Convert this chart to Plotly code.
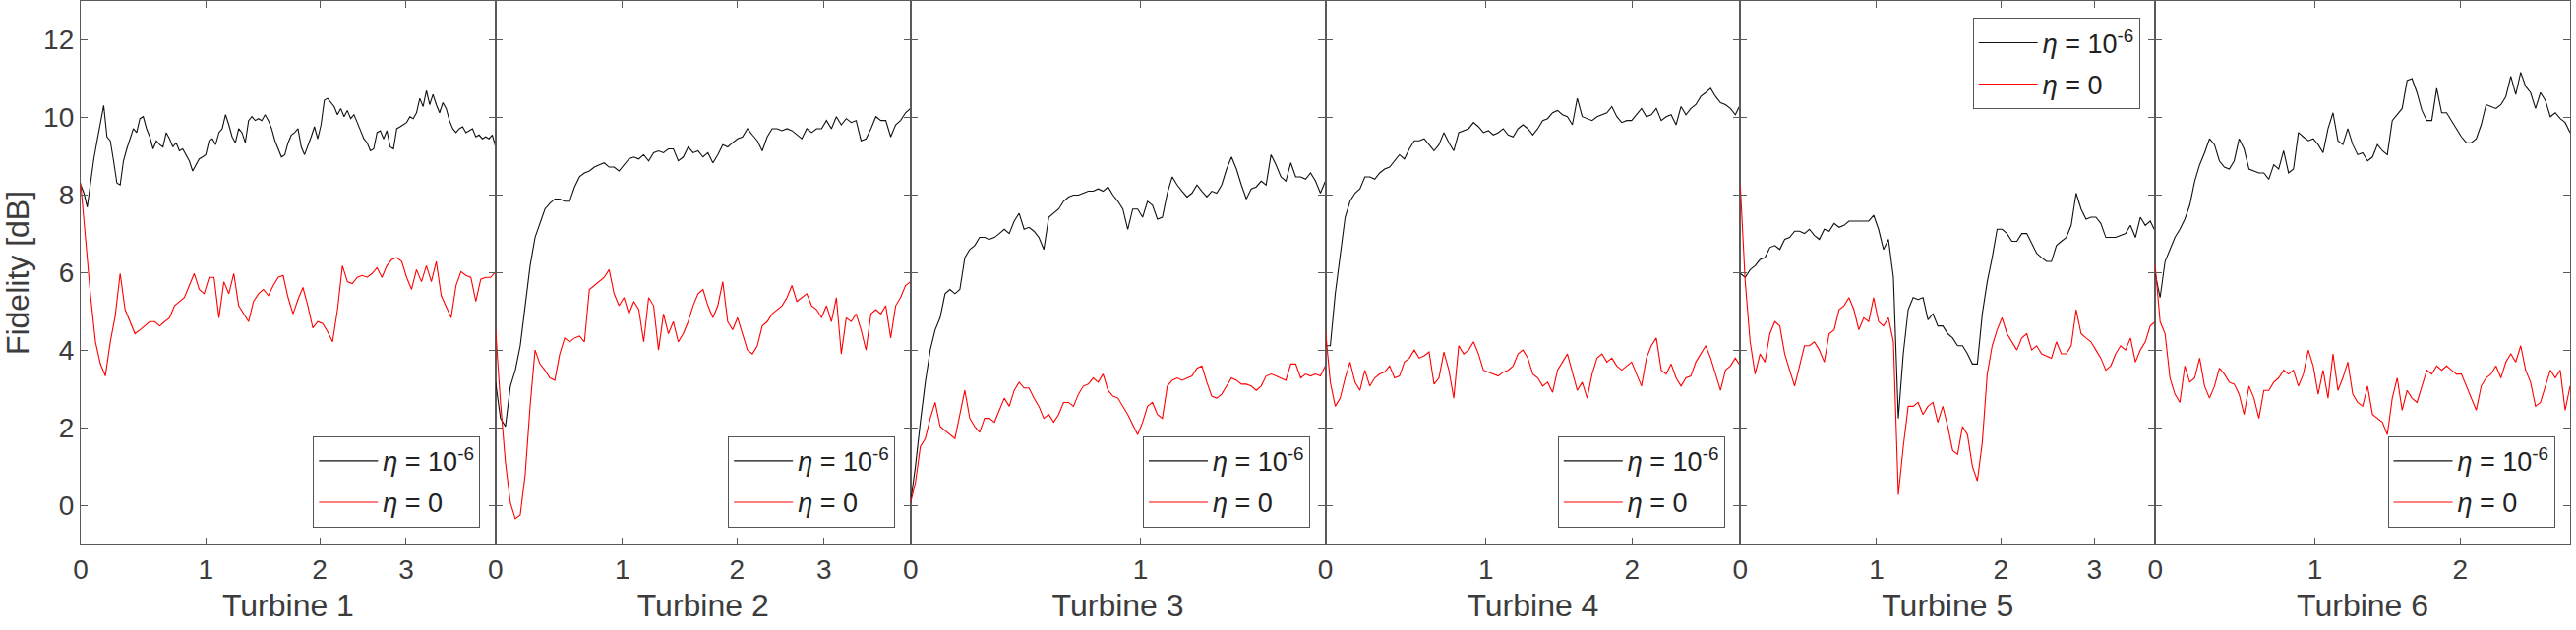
import numpy as np
import plotly.graph_objects as go
from plotly.subplots import make_subplots

turbines = ["Turbine 1", "Turbine 2", "Turbine 3", "Turbine 4", "Turbine 5", "Turbine 6"]
series_names = ["<i>η</i> = 10<sup>-6</sup>", "<i>η</i> = 0"]

# x tick positions (fraction of each turbine's record) and labels
tick_pos = [
    [0, 0.3017, 0.5764, 0.7846],
    [0, 0.3057, 0.5821, 0.7915],
    [0, 0.5546],
    [0, 0.3873, 0.7391],
    [0, 0.3286, 0.6279, 0.8535],
    [0, 0.385, 0.7352],
]
tick_txt = [
    ["0", "1", "2", "3"],
    ["0", "1", "2", "3"],
    ["0", "1"],
    ["0", "1", "2"],
    ["0", "1", "2", "3"],
    ["0", "1", "2"],
]
y_ticks = [0, 2, 4, 6, 8, 10, 12]

t1_eta6 = [8.26, 8.05, 7.69, 8.36, 8.93, 9.40, 9.81, 10.31, 9.50, 9.40,
           8.88, 8.31, 8.26, 8.88, 9.19, 9.45, 9.71, 9.61, 9.97, 10.02,
           9.71, 9.50, 9.19, 9.40, 9.30, 9.24, 9.61, 9.45, 9.24, 9.35,
           9.14, 9.19, 9.04, 8.88, 8.62, 8.78, 8.93, 8.98, 9.04, 9.40,
           9.45, 9.30, 9.61, 9.71, 10.07, 9.81, 9.50, 9.35, 9.71, 9.61,
           9.35, 9.92, 10.02, 9.92, 9.97, 9.92, 10.07, 9.92, 9.71, 9.40,
           9.19, 8.98, 9.04, 9.35, 9.55, 9.61, 9.71, 9.24, 9.04, 9.30,
           9.50, 9.76, 9.45, 9.81, 10.44, 10.49, 10.38, 10.28, 10.07, 10.23,
           10.02, 10.18, 9.97, 10.07, 9.87, 9.66, 9.45, 9.35, 9.14, 9.19,
           9.61, 9.66, 9.45, 9.66, 9.24, 9.19, 9.71, 9.76, 9.81, 9.87,
           10.02, 9.97, 10.12, 10.49, 10.28, 10.69, 10.33, 10.59, 10.33, 10.12,
           10.38, 10.23, 9.92, 9.71, 9.61, 9.71, 9.76, 9.61, 9.66, 9.71,
           9.50, 9.55, 9.45, 9.50, 9.45, 9.55, 9.24]
t1_eta0 = [8.31, 6.91, 5.41, 4.22, 3.65, 3.34, 4.22, 4.89, 5.98, 5.05,
           4.74, 4.43, 4.53, 4.63, 4.74, 4.74, 4.63, 4.74, 4.84, 5.15,
           5.26, 5.36, 5.67, 5.98, 5.57, 5.46, 5.88, 5.88, 4.84, 5.77,
           5.46, 5.98, 5.15, 4.94, 4.74, 5.26, 5.46, 5.57, 5.41, 5.67,
           5.88, 5.93, 5.36, 4.94, 5.31, 5.62, 5.15, 4.58, 4.74, 4.69,
           4.48, 4.22, 5.05, 6.18, 5.77, 5.72, 5.88, 5.93, 5.88, 5.98,
           6.13, 5.88, 6.18, 6.34, 6.39, 6.29, 5.88, 5.57, 6.08, 5.77,
           6.18, 5.77, 6.29, 5.41, 5.10, 4.84, 5.67, 6.03, 5.93, 5.88,
           5.26, 5.83, 5.88, 5.88, 6.03]

t2_eta6 = [3.18, 2.25, 2.04, 3.08, 3.49, 4.12, 5.15, 6.18, 6.91, 7.27,
           7.64, 7.79, 7.90, 7.90, 7.84, 7.84, 8.21, 8.47, 8.57, 8.62,
           8.72, 8.78, 8.83, 8.72, 8.72, 8.62, 8.78, 8.93, 8.98, 8.93,
           9.04, 8.88, 9.09, 9.14, 9.09, 9.19, 9.19, 8.88, 8.98, 9.24,
           9.09, 9.14, 8.98, 9.09, 8.83, 9.04, 9.30, 9.24, 9.35, 9.45,
           9.50, 9.71, 9.55, 9.40, 9.14, 9.50, 9.71, 9.71, 9.66, 9.71,
           9.66, 9.55, 9.45, 9.71, 9.61, 9.71, 9.71, 9.92, 9.71, 10.02,
           9.81, 9.97, 9.87, 9.92, 9.40, 9.45, 9.71, 10.02, 9.92, 9.92,
           9.50, 9.81, 9.92, 10.12, 10.23]
t2_eta0 = [4.53, 2.66, 1.11, 0.07, -0.34, -0.24, 0.80, 2.56, 4.01, 3.65,
           3.49, 3.29, 3.23, 3.91, 4.32, 4.22, 4.32, 4.37, 4.22, 5.57,
           5.67, 5.77, 5.88, 6.08, 5.46, 5.15, 5.36, 4.94, 5.26, 5.05,
           4.22, 5.36, 5.15, 4.01, 4.94, 4.43, 4.74, 4.22, 4.43, 4.74,
           5.15, 5.46, 5.57, 5.15, 4.84, 5.15, 5.77, 4.74, 4.53, 4.84,
           4.43, 4.01, 3.91, 4.12, 4.63, 4.74, 4.94, 5.05, 5.15, 5.36,
           5.67, 5.26, 5.36, 5.46, 5.15, 5.05, 4.84, 5.15, 4.74, 5.36,
           3.91, 4.84, 4.74, 4.94, 4.53, 4.01, 4.94, 5.05, 4.94, 5.15,
           4.32, 5.15, 5.36, 5.67, 5.77]

t3_eta6 = [0.07, 1.01, 2.15, 3.18, 4.01, 4.53, 4.84, 5.46, 5.57, 5.46,
           5.57, 6.39, 6.60, 6.70, 6.91, 6.91, 6.86, 6.91, 7.01, 7.12,
           7.01, 7.33, 7.53, 7.12, 7.17, 7.07, 6.91, 6.60, 7.43, 7.53,
           7.64, 7.84, 7.95, 8.00, 8.00, 8.05, 8.10, 8.10, 8.16, 8.10,
           8.21, 8.00, 7.84, 7.64, 7.12, 7.64, 7.64, 7.43, 7.84, 7.74,
           7.38, 7.43, 8.05, 8.47, 8.26, 8.10, 7.95, 8.05, 8.26, 8.10,
           7.95, 8.10, 8.05, 8.26, 8.67, 8.98, 8.67, 8.26, 7.90, 8.16,
           8.21, 8.36, 8.26, 9.04, 8.78, 8.47, 8.36, 8.83, 8.47, 8.47,
           8.41, 8.57, 8.36, 8.05, 8.36]
t3_eta0 = [0.07, 0.59, 1.52, 1.73, 2.25, 2.66, 2.04, 1.94, 1.83, 1.73,
           2.35, 2.97, 2.25, 2.04, 1.89, 2.25, 2.25, 2.15, 2.46, 2.77,
           2.56, 2.97, 3.18, 3.03, 3.03, 2.77, 2.56, 2.25, 2.35, 2.15,
           2.35, 2.66, 2.66, 2.56, 2.87, 3.08, 3.13, 3.29, 3.18, 3.39,
           2.97, 2.82, 2.77, 2.56, 2.35, 2.09, 1.83, 2.15, 2.56, 2.66,
           2.35, 2.25, 3.08, 3.23, 3.29, 3.23, 3.29, 3.34, 3.54, 3.60,
           3.18, 2.82, 2.77, 2.87, 3.08, 3.29, 3.23, 3.13, 3.13, 3.08,
           2.97, 3.08, 3.34, 3.39, 3.34, 3.29, 3.23, 3.65, 3.65, 3.29,
           3.39, 3.34, 3.39, 3.34, 3.60]

t4_eta6 = [4.12, 4.12, 5.46, 6.39, 7.43, 7.84, 8.05, 8.16, 8.47, 8.47,
           8.41, 8.57, 8.67, 8.72, 8.88, 9.04, 8.93, 9.19, 9.40, 9.40,
           9.45, 9.30, 9.14, 9.30, 9.61, 9.35, 9.14, 9.61, 9.66, 9.71,
           9.87, 9.76, 9.61, 9.66, 9.55, 9.61, 9.71, 9.55, 9.50, 9.71,
           9.81, 9.71, 9.55, 9.71, 9.92, 9.97, 10.12, 10.18, 10.07, 10.02,
           9.81, 10.49, 10.02, 9.97, 9.92, 10.02, 10.07, 10.12, 10.28, 10.02,
           9.87, 9.92, 9.92, 10.07, 10.23, 10.02, 10.07, 10.23, 9.92, 10.02,
           10.07, 9.81, 10.28, 10.07, 10.23, 10.33, 10.54, 10.64, 10.75, 10.54,
           10.38, 10.33, 10.23, 10.07, 10.33]
t4_eta0 = [4.53, 3.18, 2.56, 2.77, 3.29, 3.70, 3.18, 2.97, 3.49, 3.08,
           3.29, 3.39, 3.44, 3.60, 3.29, 3.34, 3.70, 3.80, 4.01, 3.80,
           3.86, 3.96, 3.13, 3.29, 3.96, 3.49, 2.77, 4.12, 3.91, 4.01,
           4.22, 3.91, 3.49, 3.44, 3.39, 3.34, 3.44, 3.49, 3.60, 3.91,
           4.01, 3.80, 3.39, 3.29, 3.08, 3.18, 2.92, 3.49, 3.70, 3.91,
           3.44, 2.97, 3.18, 2.77, 3.39, 3.80, 3.91, 3.70, 3.80, 3.60,
           3.49, 3.60, 3.70, 3.39, 3.08, 3.80, 4.12, 4.32, 3.49, 3.39,
           3.65, 3.29, 3.08, 3.29, 3.34, 3.70, 3.91, 4.12, 3.80, 3.39,
           2.97, 3.49, 3.60, 3.80, 3.60]

t5_eta6 = [5.98, 5.88, 6.08, 6.18, 6.34, 6.39, 6.65, 6.70, 6.60, 6.86,
           6.91, 7.07, 7.07, 7.01, 7.12, 6.96, 6.86, 7.12, 7.07, 7.27,
           7.17, 7.22, 7.33, 7.33, 7.33, 7.33, 7.33, 7.48, 7.12, 6.60,
           6.86, 5.88, 2.25, 3.91, 5.05, 5.36, 5.31, 5.36, 4.79, 4.94,
           4.63, 4.63, 4.43, 4.32, 4.12, 4.12, 3.91, 3.65, 3.65, 4.94,
           5.77, 6.39, 7.12, 7.12, 7.01, 6.81, 6.81, 7.01, 7.01, 6.76,
           6.50, 6.39, 6.29, 6.29, 6.70, 6.81, 6.91, 7.22, 8.05, 7.64,
           7.38, 7.43, 7.43, 7.27, 6.91, 6.91, 6.91, 6.96, 7.01, 7.22,
           6.91, 7.43, 7.22, 7.33, 7.07]
t5_eta0 = [8.26, 5.77, 4.22, 3.39, 3.91, 3.70, 4.43, 4.74, 4.63, 3.91,
           3.49, 3.08, 3.60, 4.12, 4.12, 4.22, 4.01, 3.70, 4.43, 4.53,
           5.05, 5.15, 5.36, 5.05, 4.53, 4.84, 4.74, 5.36, 4.74, 4.63,
           4.84, 4.22, 0.28, 1.52, 2.56, 2.56, 2.66, 2.35, 2.56, 2.66,
           2.15, 2.56, 2.04, 1.42, 1.32, 2.04, 1.83, 1.01, 0.64, 1.63,
           3.39, 4.12, 4.53, 4.84, 4.43, 4.22, 4.01, 4.32, 4.43, 4.01,
           4.12, 3.91, 3.86, 3.80, 4.22, 3.91, 3.91, 4.12, 5.05, 4.43,
           4.32, 4.22, 4.01, 3.80, 3.49, 3.60, 3.91, 4.12, 4.01, 4.32,
           3.70, 4.01, 4.22, 4.63, 4.74]

t6_eta6 = [5.98, 5.36, 6.29, 6.60, 6.91, 7.12, 7.38, 7.74, 8.36, 8.78,
           9.09, 9.45, 9.30, 8.88, 8.72, 8.67, 8.88, 9.45, 9.19, 8.67,
           8.62, 8.57, 8.57, 8.41, 8.78, 8.67, 9.14, 8.57, 8.67, 9.61,
           9.50, 9.40, 9.45, 9.30, 9.09, 9.71, 10.12, 9.40, 9.30, 9.71,
           9.30, 9.04, 9.09, 8.88, 8.98, 9.30, 9.14, 9.04, 9.92, 10.07,
           10.23, 10.95, 11.00, 10.64, 10.18, 9.92, 9.92, 10.75, 10.12, 10.12,
           9.92, 9.71, 9.50, 9.35, 9.35, 9.45, 9.81, 10.33, 10.28, 10.23,
           10.33, 10.54, 11.06, 10.59, 11.16, 10.80, 10.64, 10.23, 10.64, 10.44,
           10.02, 10.12, 9.97, 9.87, 9.61]
t6_eta0 = [6.18, 4.74, 4.43, 3.29, 2.87, 2.66, 3.60, 3.18, 3.29, 3.80,
           3.08, 2.77, 3.08, 3.54, 3.39, 3.18, 3.13, 2.87, 2.35, 3.08,
           2.77, 2.25, 2.97, 2.97, 3.18, 3.29, 3.49, 3.39, 3.49, 3.08,
           3.39, 4.01, 3.60, 2.87, 3.49, 2.77, 3.91, 2.97, 3.29, 3.70,
           2.87, 2.66, 2.56, 3.08, 2.35, 2.25, 2.15, 1.83, 2.77, 3.29,
           2.46, 2.97, 2.77, 2.66, 3.08, 3.49, 3.39, 3.60, 3.49, 3.60,
           3.49, 3.39, 3.39, 3.08, 2.77, 2.46, 3.08, 3.29, 3.39, 3.60,
           3.29, 3.70, 3.91, 3.70, 4.12, 3.49, 3.18, 2.56, 2.66, 3.08,
           3.49, 3.29, 3.49, 2.46, 3.08]

eta6_series = [t1_eta6, t2_eta6, t3_eta6, t4_eta6, t5_eta6, t6_eta6]
eta0_series = [t1_eta0, t2_eta0, t3_eta0, t4_eta0, t5_eta0, t6_eta0]

FONT = "Liberation Sans"
AX = "#5a5a5a"
TXT = "#3c3c3c"

fig = make_subplots(rows=1, cols=6, horizontal_spacing=0)

W, H = 2619, 641
ML, MR, MT, MB = 82, 6, 1, 87
pw = W - ML - MR
ph = H - MT - MB

for i in range(6):
    leg = "legend" if i == 0 else f"legend{i+1}"
    for k, (ys, color, name) in enumerate([(eta6_series[i], "#111111", series_names[0]),
                                           (eta0_series[i], "#ff0000", series_names[1])]):
        fig.add_trace(go.Scatter(
            x=np.linspace(0, 1, len(ys)), y=ys, mode="lines",
            line=dict(color=color, width=1.1), name=name, legend=leg,
            legendgroup=f"p{i}s{k}", hoverinfo="skip"), row=1, col=i + 1)

    fig.update_xaxes(
        range=[0, 1], tickvals=tick_pos[i], ticktext=tick_txt[i],
        ticks="inside", ticklen=7, tickcolor=AX, tickwidth=1,
        showline=True, linecolor=AX, linewidth=1.3, mirror="ticks",
        showgrid=False, zeroline=False,
        tickfont=dict(family=FONT, size=28, color=TXT),
        title=dict(text=turbines[i], font=dict(family=FONT, size=32, color=TXT), standoff=10),
        row=1, col=i + 1)
    fig.update_yaxes(
        range=[-1, 13], tickvals=y_ticks,
        ticks="inside", ticklen=7, tickcolor=AX, tickwidth=1,
        showline=True, linecolor=AX, linewidth=1.3, mirror="ticks",
        showgrid=False, zeroline=False, showticklabels=(i == 0),
        tickfont=dict(family=FONT, size=28, color=TXT),
        row=1, col=i + 1)

    top = (i == 4)
    right = (i + 1) / 6 - 15.5 / pw
    lg = dict(
        x=right, xanchor="right",
        y=(1 - 17.4 / ph) if top else 17.2 / ph,
        yanchor="top" if top else "bottom",
        bgcolor="white", bordercolor="#555555", borderwidth=1,
        font=dict(family=FONT, size=27, color="#222222"),
        itemwidth=60, tracegroupgap=4,
    )
    fig.update_layout({leg: lg})

fig.update_yaxes(title=dict(text="Fidelity [dB]", font=dict(family=FONT, size=32, color=TXT), standoff=8),
                 row=1, col=1)

fig.update_layout(
    width=W, height=H,
    margin=dict(l=ML, r=MR, t=MT, b=MB),
    plot_bgcolor="white", paper_bgcolor="white",
    font=dict(family=FONT),
    showlegend=True,
)

fig.write_html("out.html")
